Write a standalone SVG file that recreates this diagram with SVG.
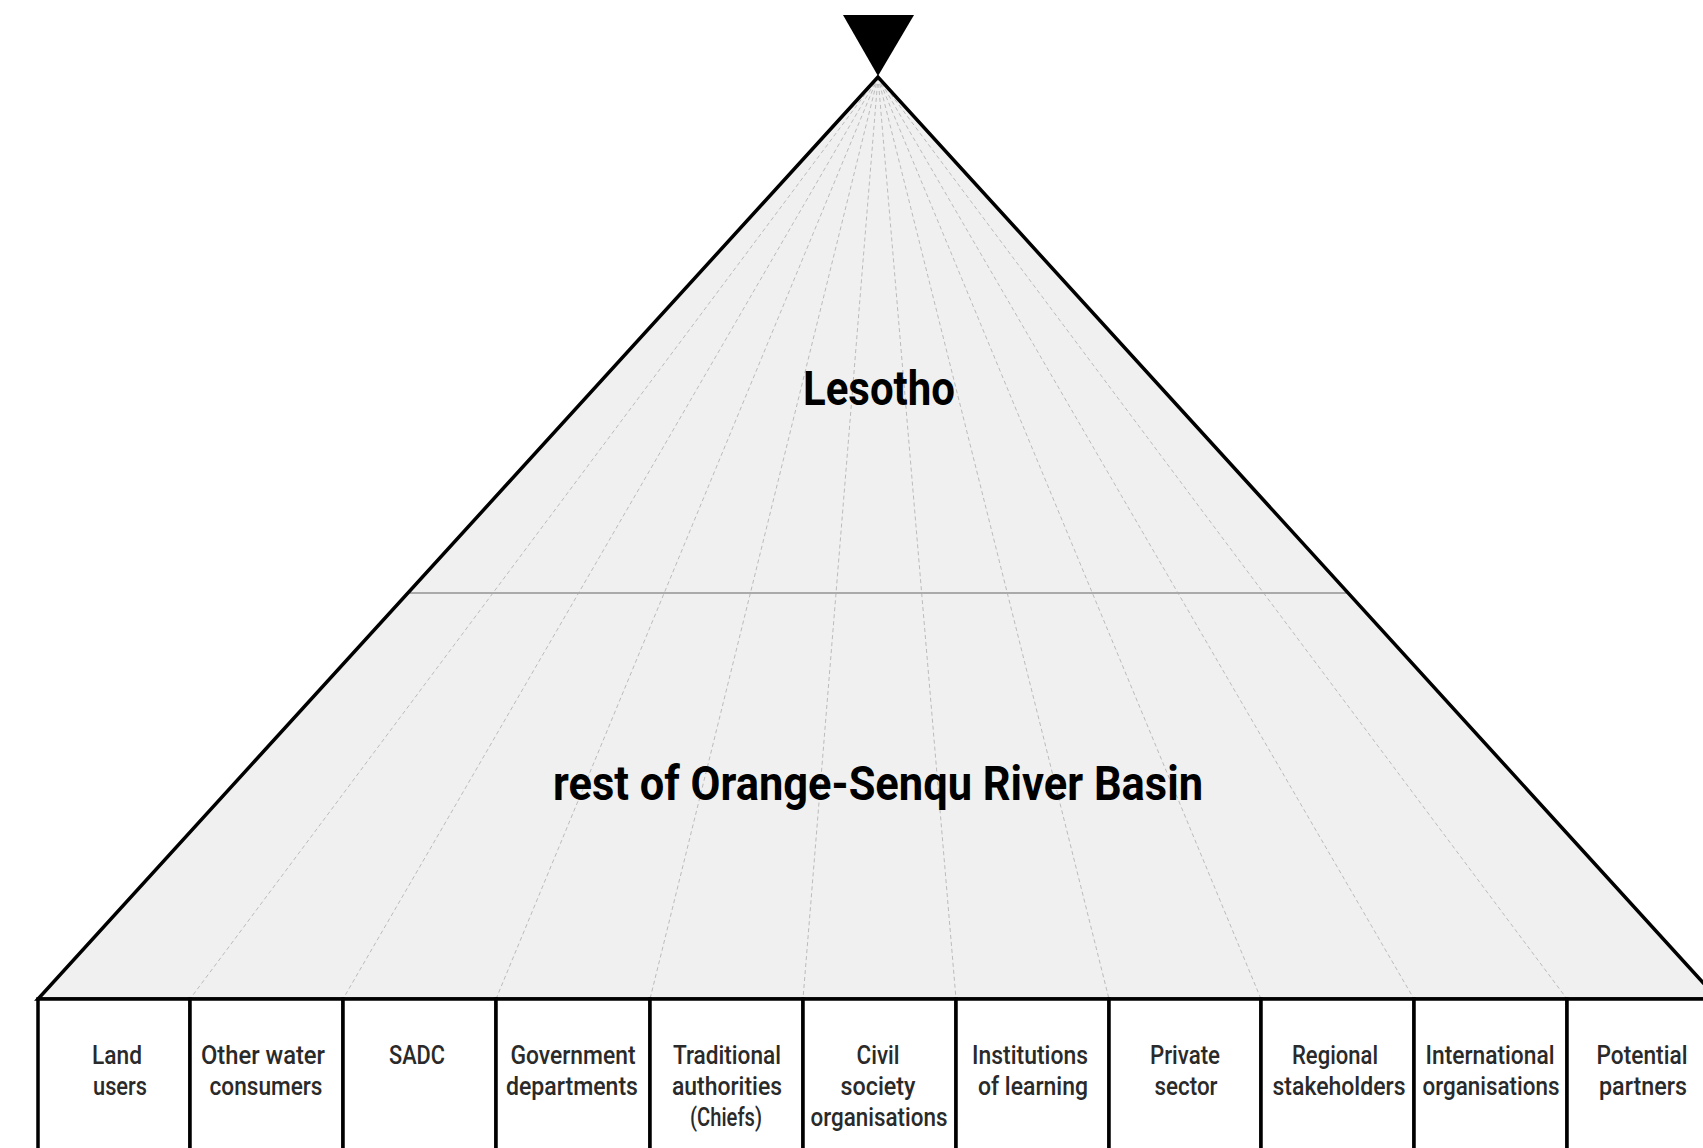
<svg xmlns="http://www.w3.org/2000/svg" width="1703" height="1148" viewBox="0 0 1703 1148">
<style>
.fan line{stroke:#b4b4b4;stroke-width:0.9;stroke-dasharray:4 3;}
.lbl{font-family:Roboto,"Liberation Sans",sans-serif;font-weight:500;font-size:25px;fill:#2a2a2a;text-anchor:middle;}
.big{font-family:Roboto,"Liberation Sans",sans-serif;font-weight:bold;font-size:48px;fill:#000;text-anchor:middle;}
.box{fill:#fff;stroke:#000;stroke-width:3.5;}
</style>
<rect width="1703" height="1148" fill="#fff"/>
<g id="pyramid">
<polygon points="878,77 38,999 1718,999" fill="#f0f0f0"/>
</g>
<g id="connectors" class="fan">
<line x1="878" y1="77" x2="190" y2="999"/>
<line x1="878" y1="77" x2="343" y2="999"/>
<line x1="878" y1="77" x2="496" y2="999"/>
<line x1="878" y1="77" x2="650" y2="999"/>
<line x1="878" y1="77" x2="803" y2="999"/>
<line x1="878" y1="77" x2="956" y2="999"/>
<line x1="878" y1="77" x2="1109" y2="999"/>
<line x1="878" y1="77" x2="1261" y2="999"/>
<line x1="878" y1="77" x2="1414" y2="999"/>
<line x1="878" y1="77" x2="1567" y2="999"/>
</g>
<g id="divider">
<line x1="410" y1="593" x2="1347" y2="593" stroke="#aaa" stroke-width="2"/>
</g>
<g id="outline">
<polygon points="878,77 38,999 1718,999" fill="none" stroke="#000" stroke-width="3.5" stroke-linejoin="miter"/>
</g>
<g id="marker">
<polygon points="843,15 914,15 878,76" fill="#000"/>
</g>
<g id="lesotho"><text class="big" x="879" y="405" textLength="152" lengthAdjust="spacingAndGlyphs">Lesotho</text></g>
<g id="basin"><text class="big" x="878" y="800" textLength="650" lengthAdjust="spacingAndGlyphs">rest of Orange-Senqu River Basin</text></g>
<g id="n1"><rect class="box" x="38" y="999" width="152" height="160"/>
<text class="lbl" x="117" y="1064" textLength="50" lengthAdjust="spacingAndGlyphs">Land</text>
<text class="lbl" x="120" y="1095" textLength="54" lengthAdjust="spacingAndGlyphs">users</text></g>
<g id="n2"><rect class="box" x="190" y="999" width="153" height="160"/>
<text class="lbl" x="263" y="1064" textLength="124" lengthAdjust="spacingAndGlyphs">Other water</text>
<text class="lbl" x="266" y="1095" textLength="113" lengthAdjust="spacingAndGlyphs">consumers</text></g>
<g id="n3"><rect class="box" x="343" y="999" width="153" height="160"/>
<text class="lbl" x="417" y="1064" textLength="56" lengthAdjust="spacingAndGlyphs">SADC</text></g>
<g id="n4"><rect class="box" x="496" y="999" width="154" height="160"/>
<text class="lbl" x="573" y="1064" textLength="125" lengthAdjust="spacingAndGlyphs">Government</text>
<text class="lbl" x="572" y="1095" textLength="132" lengthAdjust="spacingAndGlyphs">departments</text></g>
<g id="n5"><rect class="box" x="650" y="999" width="153" height="160"/>
<text class="lbl" x="727" y="1064" textLength="108" lengthAdjust="spacingAndGlyphs">Traditional</text>
<text class="lbl" x="727" y="1095" textLength="110" lengthAdjust="spacingAndGlyphs">authorities</text>
<text class="lbl" x="726" y="1126" textLength="72" lengthAdjust="spacingAndGlyphs">(Chiefs)</text></g>
<g id="n6"><rect class="box" x="803" y="999" width="153" height="160"/>
<text class="lbl" x="878" y="1064" textLength="43" lengthAdjust="spacingAndGlyphs">Civil</text>
<text class="lbl" x="878" y="1095" textLength="75" lengthAdjust="spacingAndGlyphs">society</text>
<text class="lbl" x="879" y="1126" textLength="137" lengthAdjust="spacingAndGlyphs">organisations</text></g>
<g id="n7"><rect class="box" x="956" y="999" width="153" height="160"/>
<text class="lbl" x="1030" y="1064" textLength="116" lengthAdjust="spacingAndGlyphs">Institutions</text>
<text class="lbl" x="1033" y="1095" textLength="110" lengthAdjust="spacingAndGlyphs">of learning</text></g>
<g id="n8"><rect class="box" x="1109" y="999" width="152" height="160"/>
<text class="lbl" x="1185" y="1064" textLength="70" lengthAdjust="spacingAndGlyphs">Private</text>
<text class="lbl" x="1186" y="1095" textLength="63" lengthAdjust="spacingAndGlyphs">sector</text></g>
<g id="n9"><rect class="box" x="1261" y="999" width="153" height="160"/>
<text class="lbl" x="1335" y="1064" textLength="86" lengthAdjust="spacingAndGlyphs">Regional</text>
<text class="lbl" x="1339" y="1095" textLength="133" lengthAdjust="spacingAndGlyphs">stakeholders</text></g>
<g id="n10"><rect class="box" x="1414" y="999" width="153" height="160"/>
<text class="lbl" x="1490" y="1064" textLength="129" lengthAdjust="spacingAndGlyphs">International</text>
<text class="lbl" x="1491" y="1095" textLength="137" lengthAdjust="spacingAndGlyphs">organisations</text></g>
<g id="n11"><rect class="box" x="1567" y="999" width="153" height="160"/>
<text class="lbl" x="1642" y="1064" textLength="91" lengthAdjust="spacingAndGlyphs">Potential</text>
<text class="lbl" x="1643" y="1095" textLength="88" lengthAdjust="spacingAndGlyphs">partners</text></g>
</svg>
